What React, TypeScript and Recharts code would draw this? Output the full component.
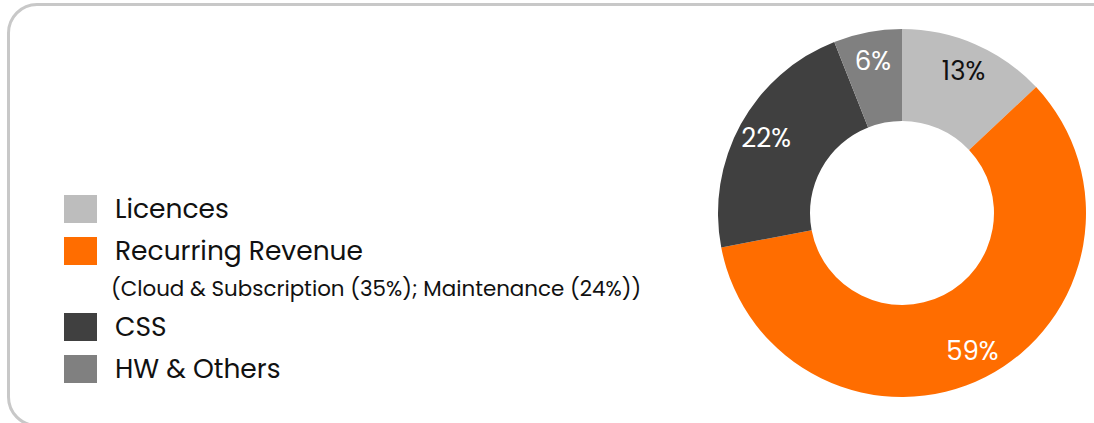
import { PieChart, Pie, Cell, Legend } from 'recharts'

const categories = ['Licences', 'Recurring Revenue', 'CSS', 'HW & Others']
const shares = [13, 59, 22, 6]
const notes = ['', '(Cloud & Subscription (35%); Maintenance (24%))', '', '']
const colors = ['#BDBDBD', '#FF6D00', '#404040', '#808080']
const labelColors = ['#111111', '#ffffff', '#ffffff', '#ffffff']

const data = categories.map((name, i) => ({ name, value: shares[i], note: notes[i] }))

const FONT = 'Poppins, Inter, sans-serif'
const RAD = Math.PI / 180

const renderLabel = (props: any) => {
  const { cx, cy, midAngle, index, value } = props
  const r = 155
  const x = cx + r * Math.cos(-midAngle * RAD)
  const y = cy + r * Math.sin(-midAngle * RAD)
  return (
    <text
      x={x}
      y={y}
      fill={labelColors[index]}
      textAnchor="middle"
      dominantBaseline="central"
      fontSize={26}
      fontFamily={FONT}
    >
      {value}%
    </text>
  )
}

const renderLegend = () => (
  <div style={{ fontFamily: FONT, color: '#111' }}>
    {data.map((d, i) => (
      <div key={d.name}>
        <div style={{ display: 'flex', alignItems: 'center', height: 28, marginBottom: d.note ? 0 : 14 }}>
          <div style={{ width: 33, height: 28, background: colors[i], marginRight: 18 }} />
          <span style={{ fontSize: 26.5 }}>{d.name}</span>
        </div>
        {d.note && (
          <div style={{ height: 48, lineHeight: '48px', paddingLeft: 47, fontSize: 21.4, whiteSpace: 'nowrap' }}>
            {d.note}
          </div>
        )}
      </div>
    ))}
  </div>
)

export default function App() {
  return (
    <div style={{ position: 'fixed', left: 0, top: 0, width: 1094, height: 423, background: '#fff', overflow: 'hidden' }}>
      <div
        style={{
          position: 'absolute',
          left: 7,
          top: 3,
          width: 1200,
          height: 418,
          border: '3px solid #C8C8C8',
          borderRadius: 30,
        }}
      />
      <PieChart width={1094} height={423} style={{ position: 'absolute', left: 0, top: 0 }}>
        <Pie
          data={data}
          dataKey="value"
          nameKey="name"
          cx={897}
          cy={208}
          innerRadius={92}
          outerRadius={184}
          startAngle={90}
          endAngle={-270}
          stroke="none"
          label={renderLabel}
          labelLine={false}
          isAnimationActive={false}
        >
          {data.map((d, i) => (
            <Cell key={d.name} fill={colors[i]} />
          ))}
        </Pie>
        <Legend
          content={renderLegend}
          wrapperStyle={{ position: 'absolute', left: 64, top: 195, width: 'auto' }}
        />
      </PieChart>
    </div>
  )
}
